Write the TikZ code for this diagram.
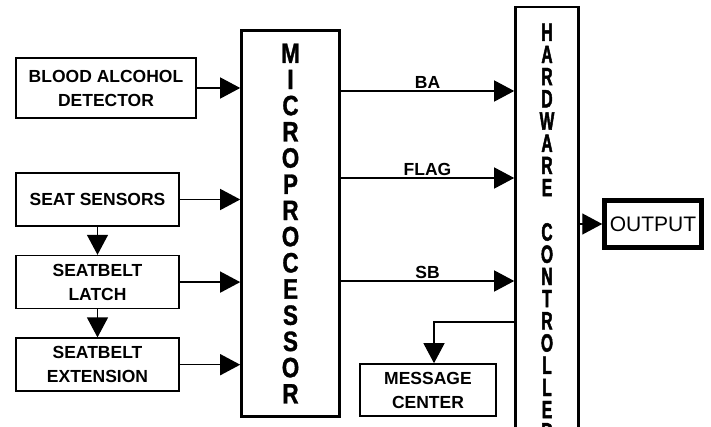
\documentclass[tikz,border=0pt]{standalone}
\usepackage{fontspec}
\setmainfont{Liberation Sans}
\newfontfamily\microfont[FakeStretch=0.8, FakeBold=1.2]{Liberation Sans Bold}
\newfontfamily\ctrlfont[FakeStretch=0.62, FakeBold=1.8]{Liberation Sans Bold}
\usetikzlibrary{arrows.meta, positioning}

\begin{document}
\begin{tikzpicture}[x=1pt, y=-1pt,
      block/.style={
        draw,
        line width=1.6pt,
        inner sep=0pt,
        align=center,
        font=\bfseries\fontsize{17.5}{24}\selectfont
      },
      bigblock/.style={draw, line width=2.6pt, inner sep=0pt, align=center},
      flow/.style={-{Triangle[length=20pt, width=21pt]}, line width=1.3pt},
      siglabel/.style={above, inner sep=1.5pt, font=\bfseries\fontsize{17.5}{20}\selectfont}
    ]
    \useasboundingbox (0,0) rectangle (711,427);

    % inputs
    \node[block, minimum width=180pt, minimum height=60pt] (bac) at (106,88) {BLOOD ALCOHOL\\DETECTOR};
    \node[block, minimum width=163pt, minimum height=53pt] (seat) at (97.5,199.5) {SEAT SENSORS};
    \node[block, minimum width=163pt, minimum height=53pt, below=28pt of seat] (latch) {SEATBELT\\LATCH};
    \node[block, minimum width=163pt, minimum height=53pt, below=28pt of latch] (ext) {SEATBELT\\EXTENSION};

    % processing
    \node[bigblock, minimum width=98pt, minimum height=386pt,
      font=\microfont\fontsize{28}{26.2}\selectfont] (micro) at (290.5,223.5)
      {M\\I\\C\\R\\O\\P\\R\\O\\C\\E\\S\\S\\O\\R};
    \node[bigblock, minimum width=63pt, minimum height=450pt,
      font=\ctrlfont\fontsize{25}{22.2}\selectfont] (hwc) at (547,232)
      {H\\A\\R\\D\\W\\A\\R\\E\\[22.2pt]C\\O\\N\\T\\R\\O\\L\\L\\E\\R};

    % outputs
    \node[draw, line width=4.5pt, minimum width=97pt, minimum height=47pt, inner sep=0pt,
      font=\fontsize{21}{24}\selectfont] (out) at (653,224) {OUTPUT};
    \node[block, minimum width=136pt, minimum height=52pt] (msg) at (428,390) {MESSAGE\\CENTER};

    \coordinate (ba) at (427,91);
    \coordinate (flag) at (427,178);
    \coordinate (sb) at (427,281);
    \coordinate (mc) at (434,322);

    \draw[flow] (bac.east) -- (bac.east -| micro.west);
    \draw[flow] (seat.east) -- (seat.east -| micro.west);
    \draw[flow] (latch.east) -- (latch.east -| micro.west);
    \draw[flow] (ext.east) -- (ext.east -| micro.west);
    \draw[flow] (seat) -- (latch);
    \draw[flow] (latch) -- (ext);

    \draw[flow] (ba -| micro.east) -- node[siglabel] {BA} (ba -| hwc.west);
    \draw[flow] (flag -| micro.east) -- node[siglabel] {FLAG} (flag -| hwc.west);
    \draw[flow] (sb -| micro.east) -- node[siglabel] {SB} (sb -| hwc.west);

    \draw[flow] (hwc.east |- out.west) -- (out.west);
    \draw[flow] (mc -| hwc.west) -- (mc) -- (mc |- msg.north);
  \end{tikzpicture}
\end{document}
